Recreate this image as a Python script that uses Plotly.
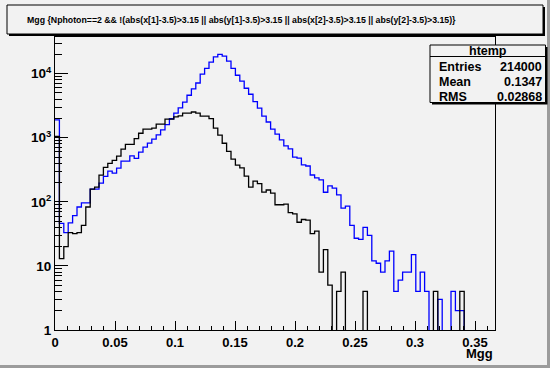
import numpy as np
import plotly.graph_objects as go

# ---------------- data ----------------
NBINS = 100
XMIN = 0.0
XMAX = 0.36667

blue_counts = [
    1900, 46, 33, 47, 61, 83, 96, 96, 158, 158,
    196, 249, 302, 281, 336, 432, 432, 520, 478, 596,
    713, 824, 951, 1110, 1327, 1600, 1980, 2415, 2920, 3584,
    4607, 5800, 7150, 9830, 12130, 15100, 18300, 20050, 18770, 15700,
    12050, 9440, 7650, 5920, 4775, 3670, 2900, 2170, 1760, 1360,
    1138, 927, 748, 670, 500, 480, 376, 362, 262, 236,
    220, 141, 177, 164, 128, 80, 86, 43, 27, 26,
    40, 30, 12, 11, 8, 12, 17, 4, 6, 8,
    8, 15, 4, 8, 4, 0, 0, 3, 0, 0,
    4, 2, 2, 0, 0, 0, 0, 0, 0, 0,
]

black_counts = [
    1050, 13, 20, 33, 32, 33, 43, 83, 158, 170,
    261, 344, 397, 442, 517, 664, 790, 790, 972, 1175,
    1360, 1360, 1410, 1628, 1628, 1950, 1950, 2118, 2194, 2430,
    2430, 2520, 2415, 2180, 2180, 1990, 1415, 1095, 820, 614,
    465, 375, 338, 252, 170, 211, 193, 142, 153, 137,
    90, 90, 92, 68, 65, 48, 53, 52, 32, 35,
    8, 18, 5, 0, 4, 8, 0, 0, 0, 0,
    4, 0, 0, 0, 0, 0, 0, 0, 0, 0,
    0, 0, 0, 0, 0, 0, 4, 0, 0, 0,
    0, 0, 4, 0, 0, 0, 0, 0, 0, 0,
]

title_text = ("Mgg {Nphoton==2 && !(abs(x[1]-3.5)>3.15 || abs(y[1]-3.5)>3.15 || "
              "abs(x[2]-3.5)>3.15 || abs(y[2]-3.5)>3.15)}")
stats_name = "htemp"
stats_labels = ["Entries", "Mean", "RMS"]
stats_values = ["214000", "0.1347", "0.02868"]
x_title = "Mgg"
y_tickvals = [1, 10, 100, 1000, 10000]
y_ticktext = ["1", "10", "10<sup>2</sup>", "10<sup>3</sup>", "10<sup>4</sup>"]
y_minor = [m * d for d in (1, 10, 100, 1000, 10000) for m in range(2, 10)]

# ---------------- figure ----------------
W, H = 550, 368
L, R, T, B = 55, 55, 37, 38
PW, PH = W - L - R, H - T - B
BG = "#f2f2f2"
FONT = "Liberation Sans, Arial, Helvetica, sans-serif"


def px(x):
    return (x - L) / PW


def py(y):
    return (H - B - y) / PH


edges = np.linspace(XMIN, XMAX, NBINS + 1)
FLOOR = 1e-3  # empty bins fall below the axis (ROOT draws them to the bottom)


def step_y(counts):
    v = [c if c > 0 else FLOOR for c in counts]
    return v + [v[-1]]


fig = go.Figure()
fig.add_trace(go.Scatter(x=edges, y=step_y(blue_counts), mode="lines",
                         line=dict(color="#0000ff", width=1.3, shape="hv"),
                         hoverinfo="skip"))
fig.add_trace(go.Scatter(x=edges, y=step_y(black_counts), mode="lines",
                         line=dict(color="#000000", width=1.3, shape="hv"),
                         hoverinfo="skip"))

fig.update_layout(
    width=W, height=H,
    margin=dict(l=L, r=R, t=T, b=B, pad=0, autoexpand=False),
    paper_bgcolor=BG, plot_bgcolor=BG,
    showlegend=False,
    font=dict(family=FONT, color="black"),
)

fig.update_xaxes(
    range=[XMIN, XMAX], tick0=0, dtick=0.05,
    ticks="inside", ticklen=8.8, tickwidth=1, tickcolor="black",
    showline=True, linecolor="black", linewidth=1, mirror=True,
    showgrid=False, zeroline=False,
    tickfont=dict(size=13, weight="bold", family=FONT),
    minor=dict(tick0=0, dtick=0.01, ticks="inside", ticklen=4.4,
               tickcolor="black", tickwidth=1, showgrid=False),
)
fig.update_yaxes(
    type="log", range=[0, 4.572],
    tickmode="array", tickvals=y_tickvals, ticktext=y_ticktext,
    ticks="inside", ticklen=13.2, tickwidth=1, tickcolor="black",
    showline=True, linecolor="black", linewidth=1, mirror=True,
    showgrid=False, zeroline=False,
    tickfont=dict(size=13.5, weight="bold", family=FONT),
    minor=dict(tickmode="array", tickvals=y_minor, ticks="inside",
               ticklen=6.6, tickcolor="black", tickwidth=1, showgrid=False),
)

shapes = []
# canvas bevel (bottom / right)
shapes.append(dict(type="rect", xref="paper", yref="paper",
                   x0=px(547), x1=px(550), y0=py(0), y1=py(368),
                   fillcolor="#9c9c9c", line=dict(width=0), layer="above"))
shapes.append(dict(type="rect", xref="paper", yref="paper",
                   x0=px(0), x1=px(550), y0=py(365), y1=py(368),
                   fillcolor="#9c9c9c", line=dict(width=0), layer="above"))
# title box with shadow
shapes.append(dict(type="rect", xref="paper", yref="paper",
                   x0=px(9), x1=px(545), y0=py(7), y1=py(36),
                   fillcolor="black", line=dict(width=0), layer="above"))
shapes.append(dict(type="rect", xref="paper", yref="paper",
                   x0=px(7), x1=px(543), y0=py(5), y1=py(34),
                   fillcolor=BG, line=dict(color="black", width=1), layer="above"))
# stats box with shadow
shapes.append(dict(type="rect", xref="paper", yref="paper",
                   x0=px(432), x1=px(547.5), y0=py(47), y1=py(104.5),
                   fillcolor="black", line=dict(width=0), layer="above"))
shapes.append(dict(type="rect", xref="paper", yref="paper",
                   x0=px(430), x1=px(545.5), y0=py(45), y1=py(102.5),
                   fillcolor=BG, line=dict(color="black", width=1), layer="above"))
shapes.append(dict(type="line", xref="paper", yref="paper",
                   x0=px(430), x1=px(545.5), y0=py(56.5), y1=py(56.5),
                   line=dict(color="black", width=1), layer="above"))
fig.update_layout(shapes=shapes)

ann = []
ann.append(dict(text=title_text, x=px(241.5), y=py(19.5), xref="paper", yref="paper",
                xanchor="center", yanchor="middle", showarrow=False,
                font=dict(size=8.75, weight="bold", family=FONT)))
ann.append(dict(text=x_title, x=px(495), y=py(353.5), xref="paper", yref="paper",
                xanchor="right", yanchor="middle", showarrow=False,
                font=dict(size=13, weight="bold", family=FONT)))
ann.append(dict(text=stats_name, x=px(487.5), y=py(51), xref="paper", yref="paper",
                xanchor="center", yanchor="middle", showarrow=False,
                font=dict(size=12.5, weight="bold", family=FONT)))
rows_y = [67.2, 82.3, 97.5]
for lab, val, yy in zip(stats_labels, stats_values, rows_y):
    ann.append(dict(text=lab, x=px(436.5), y=py(yy), xref="paper", yref="paper",
                    xanchor="left", yanchor="middle", showarrow=False,
                    font=dict(size=12.5, weight="bold", family=FONT)))
    ann.append(dict(text=val, x=px(543.5), y=py(yy), xref="paper", yref="paper",
                    xanchor="right", yanchor="middle", showarrow=False,
                    font=dict(size=12.5, weight="bold", family=FONT)))
fig.update_layout(annotations=ann)

fig.write_html("out.html",
               config={"displayModeBar": False, "staticPlot": True},
               post_script="document.body.style.margin='0';document.body.style.padding='0';")
